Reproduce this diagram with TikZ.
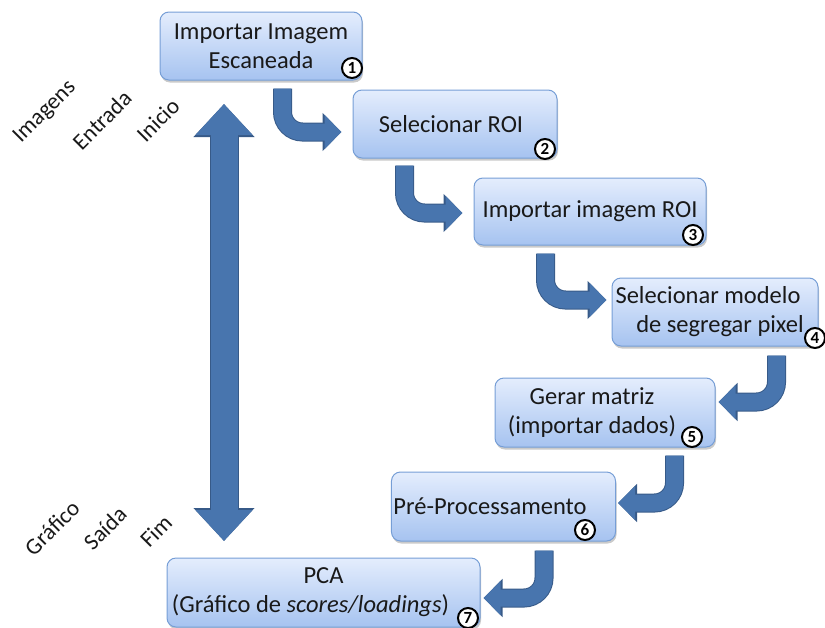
\documentclass[tikz,border=0pt]{standalone}
\usepackage{fontspec}
\setmainfont{Carlito}
\usetikzlibrary{arrows.meta,shadows,calc}
\definecolor{arrowfill}{RGB}{72,117,174}
\definecolor{arrowedge}{RGB}{55,90,136}
\definecolor{boxtop}{RGB}{228,237,253}
\definecolor{boxbot}{RGB}{166,195,240}
\definecolor{boxedge}{RGB}{118,158,214}
\definecolor{txt}{RGB}{25,25,25}
\begin{document}
\begin{tikzpicture}[x=1pt,y=-1pt,
  stepbox/.style={draw=boxedge, line width=1pt, rounded corners=9pt,
    top color=boxtop, bottom color=boxbot, align=center, text=txt,
    font=\fontsize{24.5}{29}\selectfont, inner sep=2pt,
    drop shadow={shadow xshift=1pt, shadow yshift=-2.5pt, opacity=0.35, fill=black!60}},
  num/.style={circle, draw=black, line width=2pt, fill=white, inner sep=0pt,
    minimum size=20pt, font=\fontsize{17}{17}\selectfont\bfseries},
  side/.style={rotate=45, text=txt, font=\fontsize{23}{23}\selectfont},
  bent/.style={line width=17pt, draw=arrowfill, rounded corners=20pt,
    -{Triangle[width=33pt,length=17pt]},
    preaction={draw=arrowedge, line width=19pt, -{Triangle[width=37pt,length=19pt]}}},
  bigarrow/.style={line width=27pt, draw=arrowfill,
    {Triangle[width=55pt,length=31pt]}-{Triangle[width=55pt,length=31pt]},
    preaction={draw=arrowedge, line width=29pt,
      {Triangle[width=59pt,length=33pt]}-{Triangle[width=59pt,length=33pt]}}},
]
\useasboundingbox (0,0) rectangle (825,627);

% boxes
\node[stepbox, minimum width=202pt, minimum height=68pt] (b1) at (261,46) {Importar Imagem\\Escaneada};
\node[stepbox, minimum width=204pt, minimum height=68pt] (b2) at (455,124) {Selecionar ROI\hspace*{8pt}};
\node[stepbox, minimum width=232pt, minimum height=67pt] (b3) at (590,211.5) {Importar imagem ROI};
\node[stepbox, minimum width=206pt, minimum height=68pt] (b4) at (715,312) {Selecionar modelo\hspace*{14pt}\\\hspace*{10pt}de segregar pixel};
\node[stepbox, minimum width=220pt, minimum height=69pt] (b5) at (605,412.5) {Gerar matriz\hspace*{26pt}\\(importar dados)\hspace*{26pt}};
\node[stepbox, minimum width=223pt, minimum height=69pt] (b6) at (503.5,506.5) {Pré-Processamento\hspace*{27pt}};
\node[stepbox, minimum width=313pt, minimum height=69pt] (b7) at (323.5,592.5) {PCA\\(Gráfico de \textit{scores/loadings})\hspace*{26pt}};

% bent arrows
\draw[bent] ($(b1.south west)+(123,8)$) |- ($(b2.west)+(-11,8)$);
\draw[bent] ($(b2.south west)+(52,7)$) |- ($(b3.west)+(-11,1.5)$);
\draw[bent] ($(b3.south west)+(72,8)$) |- ($(b4.west)+(-5,-12)$);
\draw[bent] ($(b4.south east)+(-42,9)$) |- ($(b5.east)+(3,-10.5)$);
\draw[bent] ($(b5.south east)+(-41,8)$) |- ($(b6.east)+(2,-3.5)$);
\draw[bent] ($(b6.south east)+(-72,9)$) |- ($(b7.east)+(3,5.5)$);

% step numbers
\node[num] (n1) at (352,68) {1};
\node[num] (n2) at (545,149) {2};
\node[num] (n3) at (693,235) {3};
\node[num] (n4) at (815,338) {4};
\node[num] (n5) at (692,437) {5};
\node[num] (n6) at (585,530) {6};
\node[num] (n7) at (468,618) {7};

% double arrow
\coordinate (top) at (224,104);
\coordinate (bot) at (224,541);
\draw[bigarrow] (top) -- (bot);

% side labels
\node[side] (l1) at (45,112) {Imagens};
\node[side] (l2) at (102,120) {Entrada};
\node[side] (l3) at (158,120) {Inicio};
\node[side] (l4) at (52,528) {Gráfico};
\node[side] (l5) at (105,528) {Saída};
\node[side] (l6) at (156,531) {Fim};
\end{tikzpicture}
\end{document}
